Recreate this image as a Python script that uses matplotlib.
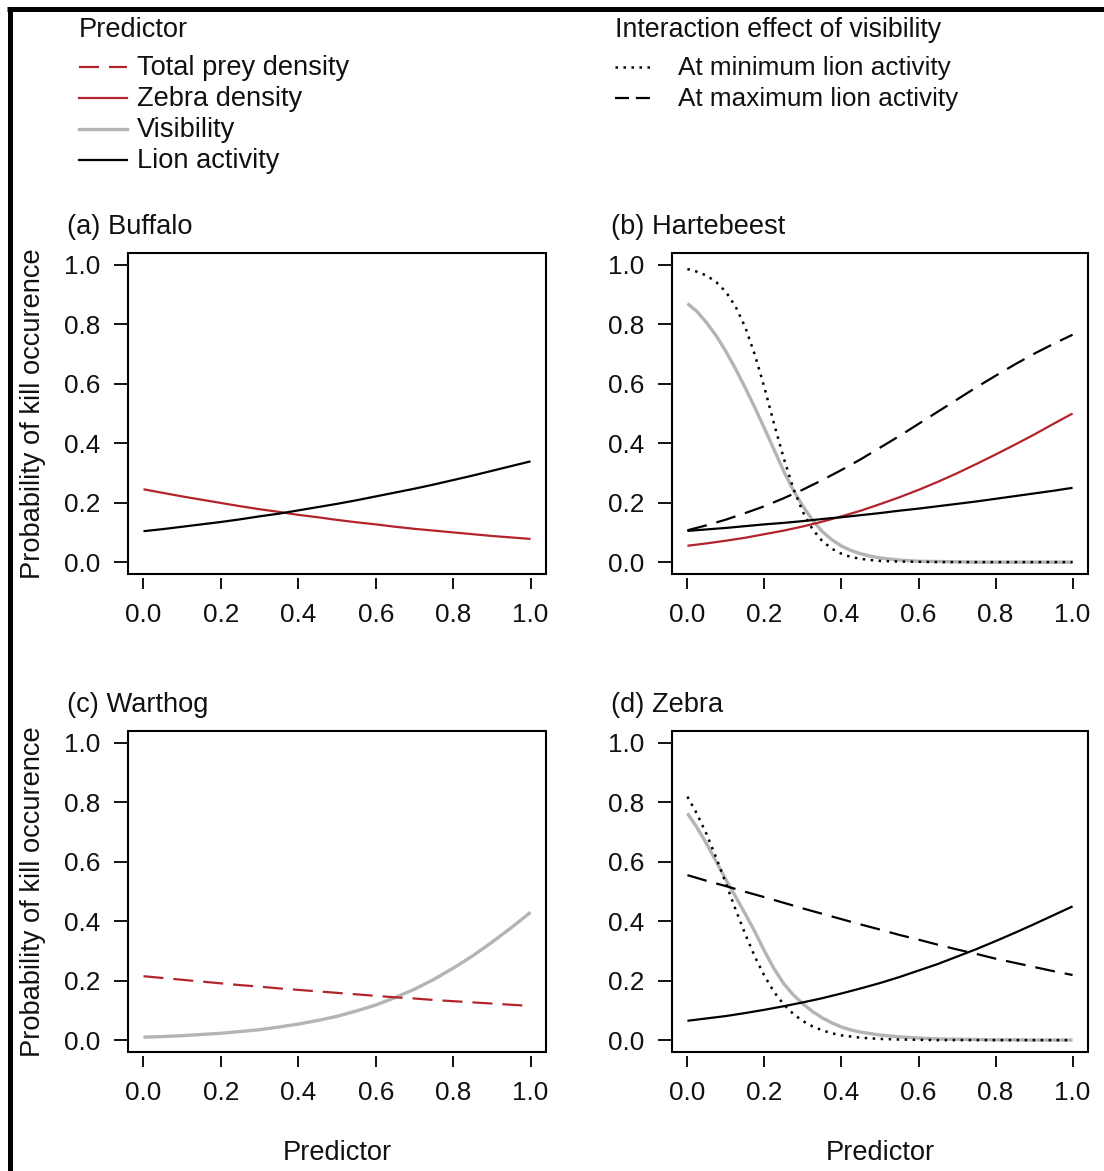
import matplotlib
matplotlib.use("Agg")
import matplotlib.pyplot as plt
from matplotlib.lines import Line2D
from matplotlib.ticker import FormatStrFormatter

plt.rcParams['font.family'] = ['Liberation Sans', 'DejaVu Sans']
plt.rcParams['text.color'] = '#111111'
plt.rcParams['xtick.color'] = '#111111'
plt.rcParams['ytick.color'] = '#111111'

W, H = 1104, 1171
FS = 19.6

# predictor values (scaled 0-1)
x = [0.00, 0.05, 0.10, 0.15, 0.20, 0.25, 0.30, 0.35, 0.40, 0.45, 0.50,
     0.55, 0.60, 0.65, 0.70, 0.75, 0.80, 0.85, 0.90, 0.95, 1.00]
# finer steps where the visibility curves drop steeply
x_fine = [0.000, 0.025, 0.050, 0.075, 0.100, 0.125, 0.150, 0.175, 0.200, 0.225, 0.250,
          0.275, 0.300, 0.325, 0.350, 0.375, 0.400, 0.425, 0.450, 0.475, 0.500,
          0.55, 0.60, 0.65, 0.70, 0.75, 0.80, 0.85, 0.90, 0.95, 1.00]

# (a) Buffalo
buffalo_zebra = [0.245, 0.233, 0.221, 0.210, 0.199, 0.188, 0.178, 0.169, 0.159, 0.151, 0.142,
                 0.134, 0.127, 0.119, 0.112, 0.106, 0.100, 0.094, 0.088, 0.083, 0.078]
buffalo_lion = [0.104, 0.111, 0.119, 0.127, 0.135, 0.144, 0.154, 0.163, 0.174, 0.185, 0.196,
                0.208, 0.221, 0.234, 0.247, 0.261, 0.276, 0.291, 0.307, 0.323, 0.339]

# (b) Hartebeest
hart_vis = [0.870, 0.843, 0.805, 0.761, 0.709, 0.650, 0.587, 0.520, 0.450, 0.378, 0.306,
            0.242, 0.188, 0.141, 0.103, 0.075, 0.054, 0.039, 0.028, 0.020, 0.014,
            0.007, 0.003, 0.002, 0.001, 0.000, 0.000, 0.000, 0.000, 0.000, 0.000]
hart_vis_minlion = [0.986, 0.977, 0.964, 0.942, 0.909, 0.860, 0.791, 0.698, 0.587, 0.465, 0.350,
                    0.248, 0.168, 0.110, 0.071, 0.045, 0.028, 0.017, 0.011, 0.007, 0.004,
                    0.002, 0.001, 0.000, 0.000, 0.000, 0.000, 0.000, 0.000, 0.000, 0.000]
hart_vis_maxlion = [0.107, 0.124, 0.143, 0.165, 0.188, 0.215, 0.244, 0.276, 0.310, 0.346, 0.385,
                    0.424, 0.465, 0.506, 0.547, 0.588, 0.627, 0.665, 0.701, 0.734, 0.765]
hart_zebra = [0.055, 0.063, 0.072, 0.082, 0.094, 0.106, 0.120, 0.136, 0.154, 0.173, 0.195,
              0.218, 0.243, 0.270, 0.299, 0.330, 0.362, 0.395, 0.429, 0.465, 0.500]
hart_lion = [0.105, 0.110, 0.115, 0.121, 0.127, 0.132, 0.138, 0.145, 0.151, 0.158, 0.165,
             0.173, 0.180, 0.188, 0.196, 0.204, 0.213, 0.222, 0.231, 0.240, 0.250]

# (c) Warthog
warthog_prey = [0.215, 0.209, 0.203, 0.197, 0.191, 0.185, 0.180, 0.174, 0.169, 0.164, 0.159,
                0.154, 0.149, 0.144, 0.140, 0.135, 0.131, 0.127, 0.123, 0.119, 0.115]
warthog_vis = [0.010, 0.012, 0.015, 0.019, 0.023, 0.029, 0.035, 0.044, 0.054, 0.066, 0.080,
               0.098, 0.118, 0.143, 0.171, 0.204, 0.242, 0.283, 0.329, 0.378, 0.430]

# (d) Zebra
zebra_vis = [0.763, 0.715, 0.660, 0.600, 0.540, 0.483, 0.425, 0.365, 0.300, 0.240, 0.190,
             0.152, 0.122, 0.096, 0.075, 0.058, 0.044, 0.034, 0.027, 0.022, 0.017,
             0.011, 0.007, 0.004, 0.003, 0.002, 0.001, 0.001, 0.000, 0.000, 0.000]
zebra_vis_minlion = [0.819, 0.761, 0.692, 0.613, 0.527, 0.440, 0.357, 0.281, 0.216, 0.162, 0.120,
                     0.088, 0.064, 0.046, 0.033, 0.023, 0.016, 0.012, 0.008, 0.006, 0.004,
                     0.002, 0.001, 0.000, 0.000, 0.000, 0.000, 0.000, 0.000, 0.000, 0.000]
zebra_vis_maxlion = [0.555, 0.536, 0.518, 0.499, 0.481, 0.462, 0.443, 0.425, 0.407, 0.389, 0.372,
                     0.354, 0.338, 0.321, 0.305, 0.290, 0.274, 0.260, 0.246, 0.232, 0.219]
zebra_lion = [0.065, 0.073, 0.081, 0.091, 0.102, 0.114, 0.127, 0.141, 0.157, 0.174, 0.192,
              0.212, 0.234, 0.256, 0.281, 0.306, 0.333, 0.361, 0.390, 0.420, 0.450]

RED = '#b3232b'
GREY = '#b4b4b4'

styles = {
    'prey':    dict(color=RED, lw=1.6, linestyle=(0, (9, 4.5))),
    'zebra':   dict(color=RED, lw=1.6, linestyle='-'),
    'vis':     dict(color=GREY, lw=2.4, linestyle='-'),
    'lion':    dict(color='black', lw=1.6, linestyle='-'),
    'minlion': dict(color='black', lw=1.8, linestyle=(0, (1, 2.2))),
    'maxlion': dict(color='black', lw=1.6, linestyle=(0, (9, 4.5))),
}

panels = [
    ('(a) Buffalo', (128, 253, 546, 574),
     [('zebra', x, buffalo_zebra), ('lion', x, buffalo_lion)]),
    ('(b) Hartebeest', (672, 253, 1088, 574),
     [('vis', x_fine, hart_vis), ('minlion', x_fine, hart_vis_minlion),
      ('maxlion', x, hart_vis_maxlion), ('zebra', x, hart_zebra), ('lion', x, hart_lion)]),
    ('(c) Warthog', (128, 731, 546, 1052),
     [('vis', x, warthog_vis), ('prey', x, warthog_prey)]),
    ('(d) Zebra', (672, 731, 1088, 1052),
     [('vis', x_fine, zebra_vis), ('minlion', x_fine, zebra_vis_minlion),
      ('maxlion', x, zebra_vis_maxlion), ('lion', x, zebra_lion)]),
]

fig = plt.figure(figsize=(W / 100, H / 100), dpi=100)
fig.patch.set_facecolor('white')


def fx(px):
    return px / W


def fy(py):
    return 1 - py / H


for i, (title, (l, t, r, b), series) in enumerate(panels):
    ax = fig.add_axes([fx(l), fy(b), (r - l) / W, (b - t) / H])
    for key, xs, vals in series:
        ax.plot(xs, vals, solid_capstyle='butt', dash_capstyle='butt',
                solid_joinstyle='round', **styles[key])
    ax.set_xlim(-0.04, 1.04)
    ax.set_ylim(-0.04, 1.04)
    ticks = [0.0, 0.2, 0.4, 0.6, 0.8, 1.0]
    ax.set_xticks(ticks)
    ax.set_yticks(ticks)
    ax.xaxis.set_major_formatter(FormatStrFormatter('%.1f'))
    ax.yaxis.set_major_formatter(FormatStrFormatter('%.1f'))
    for s in ax.spines.values():
        s.set_visible(False)
    ax.spines['bottom'].set_position(('outward', 3))
    ax.patch.set_edgecolor('black')
    ax.patch.set_linewidth(1.5)
    ax.tick_params(axis='x', direction='out', length=8, width=1.4, labelsize=18.8, pad=10)
    ax.tick_params(axis='y', direction='out', length=10, width=1.4, labelsize=18.8, pad=10)
    fig.text(fx(l - 61), fy(b - 340), title, fontsize=FS, ha='left', va='baseline')
    if i % 2 == 0:
        fig.text(fx(33), fy((t + b) / 2), 'Probability of kill occurence', fontsize=FS,
                 rotation=90, ha='center', va='center')
    if i >= 2:
        fig.text(fx((l + r) / 2), fy(1160), 'Predictor', fontsize=FS, ha='center', va='baseline')

# legends
left_items = [('Total prey density', 'prey'), ('Zebra density', 'zebra'),
              ('Visibility', 'vis'), ('Lion activity', 'lion')]
right_items = [('At minimum lion activity', 'minlion'), ('At maximum lion activity', 'maxlion')]


def legend(x0, title, items, line_len, text_gap, title_fs, item_fs, dash=None):
    fig.text(fx(x0), fy(37), title, fontsize=title_fs, ha='left', va='baseline')
    for k, (label, key) in enumerate(items):
        base = 75 + 31 * k
        st = dict(styles[key])
        if dash is not None and key in ('prey', 'maxlion'):
            st['linestyle'] = dash
        fig.add_artist(Line2D([fx(x0), fx(x0 + line_len)], [fy(base - 8), fy(base - 8)],
                              transform=fig.transFigure, dash_capstyle='butt', **st))
        fig.text(fx(x0 + line_len + text_gap), fy(base), label, fontsize=item_fs,
                 ha='left', va='baseline')


legend(79, 'Predictor', left_items, 48, 10, FS, FS)
legend(615, 'Interaction effect of visibility', right_items, 35, 28, 19.3, 18.8,
       dash=(0, (6.3, 3.1)))

# outer frame (top and left edges)
fig.add_artist(Line2D([fx(7), fx(W)], [fy(9), fy(9)], transform=fig.transFigure,
                      color='black', lw=3.6, solid_capstyle='butt'))
fig.add_artist(Line2D([fx(9.5), fx(9.5)], [fy(7), fy(H)], transform=fig.transFigure,
                      color='black', lw=3.6, solid_capstyle='butt'))

fig.savefig('out.png', dpi=100)
